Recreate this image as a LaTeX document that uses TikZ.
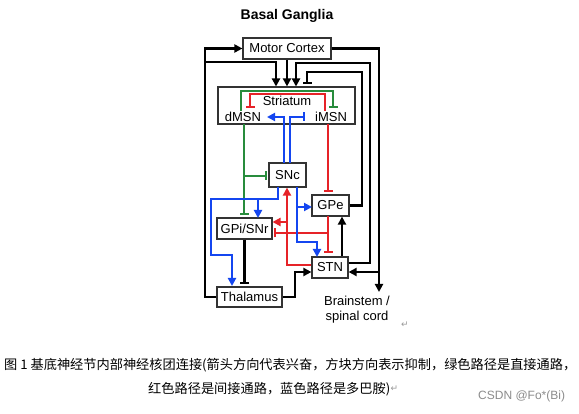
\documentclass[tikz,border=0pt]{standalone}
\usepackage{fontspec}
\setmainfont{Liberation Sans}
\newfontfamily\cjk{Noto Sans CJK SC}
\newfontfamily\djv{DejaVu Sans}
\usetikzlibrary{arrows.meta}
\definecolor{gG}{RGB}{40,140,60}
\definecolor{rR}{RGB}{230,35,40}
\definecolor{bB}{RGB}{20,70,240}
\begin{document}
\begin{tikzpicture}[x=1pt,y=-1pt,
 box/.style={draw=black!80, line width=1.2pt, inner sep=0pt, font=\fontsize{13}{13}\selectfont},
 lbl/.style={inner sep=0pt, font=\fontsize{13}{13}\selectfont},
 con/.style={line width=2.1pt},
 arr/.style={con, -{Triangle[length=8pt,width=8pt]}},
 inh/.style={con, -{Bar[width=9pt,line width=2.1pt]}},
]
\useasboundingbox[fill=white] (0,0) rectangle (579,414);
\node[font=\bfseries\fontsize{14}{14}\selectfont] (title) at (287,16) {Basal Ganglia};
\node[box, minimum width=88pt, minimum height=21pt] (mc) at (287,48.5) {Motor Cortex};
\node[box, minimum width=137pt, minimum height=37pt] (str) at (286.5,105.5) {};
\node[lbl] (strl) at (287,101) {Striatum};
\node[lbl] (dmsn) at (243,117) {dMSN};
\node[lbl] (imsn) at (331,117) {iMSN};
\node[box, minimum width=37pt, minimum height=24pt] (snc) at (287.5,175) {SNc};
\node[box, minimum width=37pt, minimum height=21pt] (gpe) at (330.5,205.5) {GPe};
\node[box, minimum width=55pt, minimum height=21pt] (gpi) at (244.5,228.5) {GPi/SNr};
\node[box, minimum width=36pt, minimum height=21pt] (stn) at (330,267.5) {STN};
\node[box, minimum width=65pt, minimum height=20pt] (thal) at (249.5,297) {Thalamus};
\node[lbl, align=center, font=\fontsize{13}{15}\selectfont] (bs) at (357,309.5) {Brainstem /\\spinal cord};
\coordinate (bstip) at (379,292);
\node[text=black!40, font=\djv\fontsize{9}{9}\selectfont] (pm1) at (405,325) {↵};
% black
\draw[arr] (thal.west) -| (205,48.5) -- (mc.west);
\draw[arr] (205,62) -| (276,86.5);
\draw[arr] (mc.south) -- (mc.south |- str.north);
\draw[arr] ([yshift=4.5pt]stn.east) -| (370,63) -| (296,86.5);
\draw[inh] (gpe.east) -| (362,72) -| (307,84.5);
\draw[arr] (mc.east) -| (bstip);
\draw[arr] (379,272) -- ([yshift=-4.5pt]stn.east);
\draw[inh, shorten >=2pt] (gpi.south) -- (gpi.south |- thal.north);
\draw[arr] (thal.east) -- (295,297) |- ([yshift=-4.5pt]stn.west);
\draw[arr] ([xshift=12pt]stn.north) -- ([xshift=12pt]stn.north |- gpe.south);
% green
\draw[inh,gG] (241,111) |- (333,91) -- (333,108);
\draw[inh,gG] (244,124) -- (244,215.5);
\draw[inh,gG] (244,176) -- (267,176);
% red
\draw[inh,rR] (325,111) |- (250,94) -- (250,108);
\draw[inh,rR] (328,124) -- (328,192);
\draw[inh,rR] (328,216) -- (328,253);
\draw[inh,rR] (328,233) -- (273.5,233);
\draw[arr,rR] ([yshift=2.5pt]stn.west) -| (snc.south -| 287,0);
\draw[arr,rR] (287,222) -- (272.5,222);
% blue
\draw[arr,bB] (284,163) |- (267,117);
\draw[inh,bB] (290,163) |- (305,117);
\draw[arr,bB] (278,187) |- (211,199) |- (232,255) -- (232,286);
\draw[arr,bB] (258,199) -- (258,218);
\draw[arr,bB] (297,187) |- (317,242) -- (317,257);
\draw[arr,bB] (297,207) -- (312,207);
% caption
\node[font=\cjk\fontsize{13.2}{13.2}\selectfont, anchor=west, inner sep=0pt] (cap1) at (4,365) {图 1 基底神经节内部神经核团连接(箭头方向代表兴奋，方块方向表示抑制，绿色路径是直接通路，};
\node[font=\cjk\fontsize{13.2}{13.2}\selectfont, anchor=west, inner sep=0pt] (cap2) at (148,389) {红色路径是间接通路，蓝色路径是多巴胺)};
\node[text=black!40, font=\djv\fontsize{9}{9}\selectfont, anchor=west, inner sep=0pt] (pm2) at (cap2.east) {↵};
\node[text=black!45, font=\fontsize{12}{12}\selectfont, anchor=west, inner sep=0pt] (csdn) at (478,396) {CSDN @Fo*(Bi)};
\end{tikzpicture}
\end{document}
